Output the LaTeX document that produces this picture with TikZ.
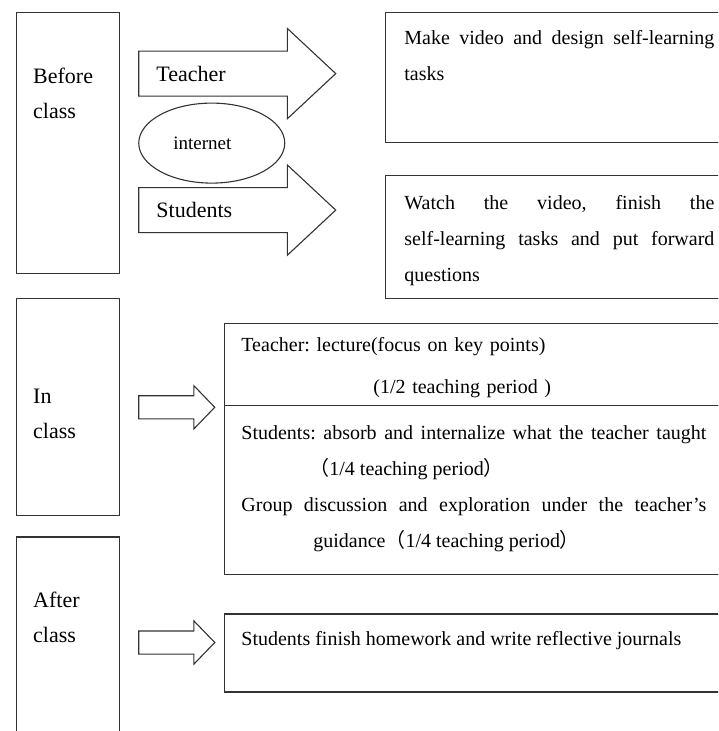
\documentclass[tikz,border=0pt]{standalone}
\usepackage{fontspec}
\setmainfont{Liberation Serif}
\newfontfamily\cjk{Noto Sans CJK SC}
\usetikzlibrary{shapes.geometric, shapes.arrows, positioning, calc}
\frenchspacing

\begin{document}
\begin{tikzpicture}[x=1pt, y=-1pt, node distance=18pt]
        \tikzstyle{stage} = [rectangle, draw=black!80, line width=1.2pt, minimum width=103pt, inner sep=0pt]
        \tikzstyle{task} = [rectangle, draw=black!80, line width=1.2pt, minimum width=345pt, inner sep=0pt]
        \tikzstyle{phase} = [inner sep=0pt, align=left, font=\fontsize{22}{35}\selectfont]
        \tikzstyle{body} = [inner sep=0pt, text width=310pt, align=justify, font=\fontsize{20}{36}\selectfont]
        \tikzstyle{bigarrow} = [single arrow, draw=black!80, line width=1.1pt, inner xsep=0pt, inner ysep=22pt, single arrow head extend=22.5pt, single arrow tip angle=86, minimum height=197pt]
        \tikzstyle{smallarrow} = [single arrow, draw=black!80, line width=1.1pt, inner xsep=0pt, inner ysep=11pt, single arrow head extend=10pt, single arrow tip angle=92, minimum height=76pt]

        \useasboundingbox (0,0) rectangle (718,731);
        \clip (0,0) rectangle (718,731);

        % Before class
        \node (bef) [stage, minimum height=261pt, anchor=north west] at (16,12) {};
        \node (beft) [phase, below right=56pt and 17pt of bef.north west] {Before\\class};
        \node (net) [ellipse, draw=black!80, line width=1.1pt, minimum width=146pt, minimum height=80pt, inner sep=0pt, right=of bef] {};
        \node (nett) [inner sep=0pt, font=\fontsize{19}{19}\selectfont, right=35pt of net.west] {internet};
        \node (tarr) [bigarrow, anchor=tail] at ([yshift=69.5pt]net.west) {};
        \node (sarr) [bigarrow, anchor=tail] at ([yshift=-67pt]net.west) {};
        \node (tarrt) [phase, right=18pt of tarr.tail] {Teacher};
        \node (sarrt) [phase, right=18pt of sarr.tail] {Students};
        \node (tbox) [task, minimum height=130pt, below right=0pt and 265pt of bef.north east] {};
        \node (sbox) [task, minimum height=123pt, below=32pt of tbox] {};
        \node (tboxt) [body, below right=18pt and 19pt of tbox.north west] {Make video and design self-learning\linebreak tasks};
        \node (sboxt) [body, below right=20pt and 19pt of sbox.north west] {Watch the video, finish the\linebreak self-learning tasks and put forward\linebreak questions};

        % In class
        \node (inc) [stage, minimum height=217pt, below=24pt of bef] {};
        \node (inct) [phase, below right=91pt and 17pt of inc.north west] {In\\class};
        \node (iarr) [smallarrow, right=of inc] {};
        \node (cls) [task, minimum width=507pt, minimum height=251pt, below right=25pt and 104pt of inc.north east] {};
        \coordinate (div) at ([yshift=43.5pt]cls.west);
        \draw [draw=black!80, line width=1.2pt] (div) -- (div -| cls.east);
        \node (lect) [body, text width=465pt, align=left, font=\fontsize{20}{42}\selectfont, below right=14pt and 17pt of cls.north west] {Teacher: lecture(focus on key points)\\\hspace*{132pt}(1/2 teaching period )};
        \node (absorb) [body, text width=465pt, below right=20pt and 17pt of div] {Students: absorb and internalize what the teacher taught\linebreak \hspace*{68pt}{\cjk （}1/4 teaching period{\cjk ）}\\Group discussion and exploration under the teacher’s\linebreak \hspace*{72pt}guidance{\cjk （}1/4 teaching period{\cjk ）}};

        % After class
        \node (aft) [stage, minimum height=211pt, below=20pt of inc] {};
        \node (aftt) [phase, below right=55pt and 17pt of aft.north west] {After\\class};
        \node (aarr) [smallarrow, right=of aft] {};
        \node (hw) [task, minimum width=507pt, minimum height=78pt, below right=77pt and 104pt of aft.north east] {};
        \node (hwt) [body, text width=465pt, below right=18pt and 17pt of hw.north west] {Students finish homework and write reflective journals};
    \end{tikzpicture}
\end{document}
